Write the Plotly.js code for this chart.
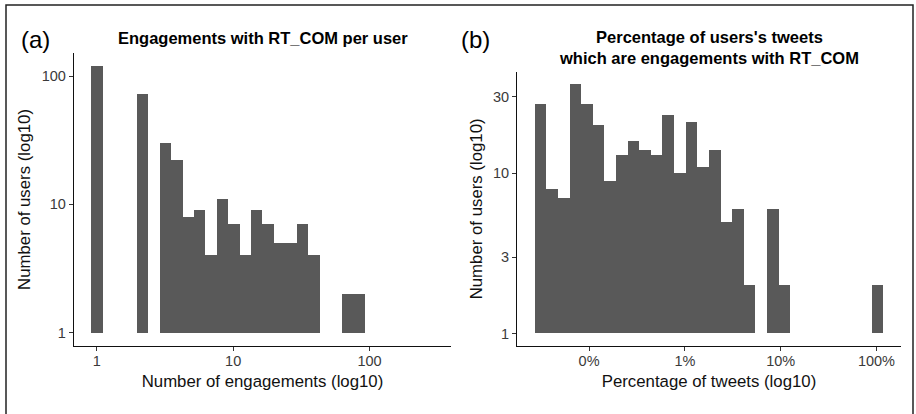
<!DOCTYPE html>
<html>
<head>
<meta charset="utf-8">
<script src="https://cdn.plot.ly/plotly-3.0.1.min.js"></script>
<style>html,body{margin:0;padding:0;background:#fff;}#chart{width:916px;height:414px;}</style>
</head>
<body>
<div id="chart"></div>
<script>
// Panel (a): engagements per user — histogram bins (log10 bin centres) and counts
const engBinCentersLog10 = [0, 0.335, 0.503, 0.587, 0.670, 0.754, 0.838, 0.922, 1.005, 1.089, 1.173, 1.257, 1.341, 1.424, 1.508, 1.592, 1.843, 1.927];
const engUserCounts = [119, 72, 30, 22, 8, 9, 4, 11, 7, 4, 9, 7, 5, 5, 7, 4, 2, 2];
const engXTickVals = [0, 1, 2];
const engXTickText = ['1', '10', '100'];
const engYTickCounts = [1, 10, 100];

// Panel (b): percentage of tweets — histogram bins (log10 of fraction) and counts
const pctBinCentersLog10 = [-3.507, -3.386, -3.264, -3.143, -3.022, -2.901, -2.779, -2.658, -2.537, -2.415, -2.294, -2.173, -2.051, -1.930, -1.809, -1.688, -1.566, -1.445, -1.324, -1.081, -0.960, 0.011];
const pctUserCounts = [27, 8, 7, 36, 27, 20, 9, 13, 16, 14, 13, 23, 10, 21, 11, 14, 5, 6, 2, 6, 2, 2];
const pctXTickVals = [-3, -2, -1, 0];
const pctXTickText = ['0%', '1%', '10%', '100%'];
const pctYTickCounts = [1, 3, 10, 30];

const W = 916, H = 414;
const px = v => v / W;
const py = v => 1 - v / H;
const barColor = '#595959';
const fontFam = '"Liberation Sans", Arial, Helvetica, sans-serif';
const titleFont = {size: 16.8, color: '#111', family: fontFam};

const traces = [
  {
    type: 'bar', x: engBinCentersLog10, y: engUserCounts.map(c => Math.log10(c)),
    width: 0.0838, marker: {color: barColor, line: {width: 0}},
    xaxis: 'x', yaxis: 'y', hoverinfo: 'skip', showlegend: false
  },
  {
    type: 'bar', x: pctBinCentersLog10, y: pctUserCounts.map(c => Math.log10(c)),
    width: 0.1213, marker: {color: barColor, line: {width: 0}},
    xaxis: 'x2', yaxis: 'y2', hoverinfo: 'skip', showlegend: false
  }
];

const axisCommon = {
  showgrid: false, zeroline: false, showline: true, linecolor: '#111', linewidth: 1.2,
  ticks: 'outside', ticklen: 4, tickwidth: 1.1, tickcolor: '#333',
  tickfont: {size: 14.5, color: '#3a3a3a', family: fontFam},
  tickmode: 'array', fixedrange: true
};

const layout = {
  width: W, height: H,
  margin: {l: 0, r: 0, t: 0, b: 0},
  paper_bgcolor: '#fff', plot_bgcolor: '#fff',
  font: {family: fontFam, color: '#000'},
  bargap: 0,
  showlegend: false,
  xaxis: Object.assign({}, axisCommon, {
    domain: [px(74), px(451)], range: [-0.1676, 2.598], anchor: 'y',
    tickvals: engXTickVals, ticktext: engXTickText, ticklabelstandoff: -3,
    title: {text: 'Number of engagements (log10)', font: titleFont, standoff: 7}
  }),
  yaxis: Object.assign({}, axisCommon, {
    domain: [py(346), py(53)], range: [-0.104, 2.18], anchor: 'x',
    tickvals: engYTickCounts.map(c => Math.log10(c)), ticktext: engYTickCounts.map(String),
    title: {text: 'Number of users (log10)', font: titleFont, standoff: 6}
  }),
  xaxis2: Object.assign({}, axisCommon, {
    domain: [px(517.3), px(900.7)], range: [-3.749, 0.253], anchor: 'y2',
    tickvals: pctXTickVals, ticktext: pctXTickText, ticklabelstandoff: -3,
    title: {text: 'Percentage of tweets (log10)', font: titleFont, standoff: 7}
  }),
  yaxis2: Object.assign({}, axisCommon, {
    domain: [py(346), py(71.7)], range: [-0.078, 1.634], anchor: 'x2',
    tickvals: pctYTickCounts.map(c => Math.log10(c)), ticktext: pctYTickCounts.map(String),
    title: {text: 'Number of users (log10)', font: titleFont, standoff: 6}
  }),
  annotations: [
    {text: '(a)', xref: 'paper', yref: 'paper', x: px(35), y: py(40), xanchor: 'center', yanchor: 'middle', showarrow: false, font: {size: 24, color: '#000', family: fontFam}},
    {text: '(b)', xref: 'paper', yref: 'paper', x: px(475), y: py(40), xanchor: 'center', yanchor: 'middle', showarrow: false, font: {size: 24, color: '#000', family: fontFam}},
    {text: '<b>Engagements with RT_COM per user</b>', xref: 'paper', yref: 'paper', x: px(262.5), y: py(38), xanchor: 'center', yanchor: 'middle', showarrow: false, font: {size: 16.5, color: '#000', family: fontFam}},
    {text: "<b>Percentage of users's tweets<br>which are engagements with RT_COM</b>", xref: 'paper', yref: 'paper', x: px(709), y: py(47.3), xanchor: 'center', yanchor: 'middle', showarrow: false, font: {size: 16.5, color: '#000', family: fontFam}}
  ],
  shapes: [
    {type: 'path', xref: 'paper', yref: 'paper',
     path: 'M ' + px(6) + ' -0.05 L ' + px(6) + ' ' + py(5) + ' L ' + px(913) + ' ' + py(5) + ' L ' + px(913) + ' -0.05',
     line: {color: '#222', width: 1.5}}
  ]
};

Plotly.newPlot('chart', traces, layout, {displayModeBar: false, staticPlot: true});
</script>
</body>
</html>
